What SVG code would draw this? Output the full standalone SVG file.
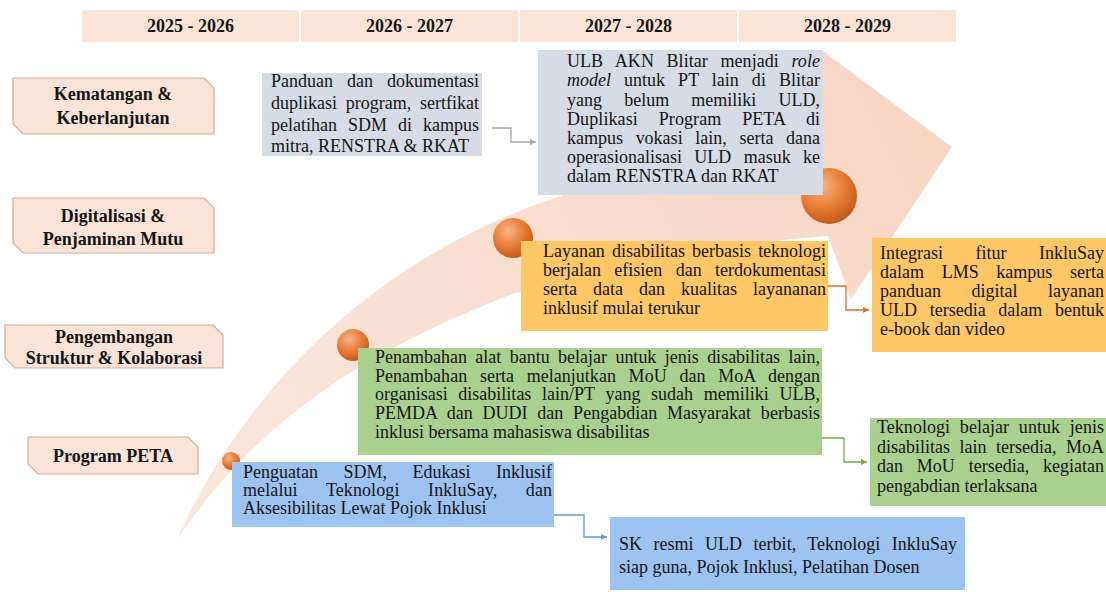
<svg xmlns="http://www.w3.org/2000/svg" width="1106" height="592" viewBox="0 0 1106 592">
<style>
.t{font-family:"Liberation Serif","Times New Roman",serif;font-size:18px;fill:#141414}
.b{font-weight:bold}
.m{text-anchor:middle}
.hd{fill:#FBE4D5}
.lbl{fill:#FBE3D6;stroke:#CFAE9A;stroke-width:1.2}
.bg{fill:#D6DCE5}
.or{fill:#FFC766}
.gr{fill:#A9D18E}
.bl{fill:#9DC3F3}
.c{fill:none;stroke-width:1.3}
</style>
<defs>
<linearGradient id="band" gradientUnits="userSpaceOnUse" x1="177" y1="540" x2="952" y2="147">
<stop offset="0" stop-color="#FBE6DC"/>
<stop offset="1" stop-color="#F8D6C4"/>
</linearGradient>
<radialGradient id="ball" cx="0.38" cy="0.32" r="0.7">
<stop offset="0" stop-color="#F7B48A"/>
<stop offset="0.45" stop-color="#EC8743"/>
<stop offset="0.85" stop-color="#D2651F"/>
<stop offset="1" stop-color="#BF5A1C"/>
</radialGradient>
<marker id="aGray" markerUnits="userSpaceOnUse" markerWidth="6" markerHeight="6" refX="6" refY="3" orient="auto"><path d="M0,0 L6,3 L0,6 Z" fill="#A6A6A6"/></marker>
<marker id="aOr" markerUnits="userSpaceOnUse" markerWidth="6" markerHeight="6" refX="6" refY="3" orient="auto"><path d="M0,0 L6,3 L0,6 Z" fill="#E46C2A"/></marker>
<marker id="aGr" markerUnits="userSpaceOnUse" markerWidth="6" markerHeight="6" refX="6" refY="3" orient="auto"><path d="M0,0 L6,3 L0,6 Z" fill="#70AD47"/></marker>
<marker id="aBl" markerUnits="userSpaceOnUse" markerWidth="6" markerHeight="6" refX="6" refY="3" orient="auto"><path d="M0,0 L6,3 L0,6 Z" fill="#5B9BD5"/></marker>
</defs>

<g id="timeline-arrow">
<path d="M177,540 C225,430 340,270 555,198 C650,166 740,135 800,112 L823,51 L952,147 L851,299 L828,236 Q620,252 497,300 C400,340 270,400 177,540 Z" fill="url(#band)"/>
</g>

<g id="header">
<rect class="hd" x="82" y="10" width="217" height="32"/>
<rect class="hd" x="301" y="10" width="217" height="32"/>
<rect class="hd" x="520" y="10" width="217" height="32"/>
<rect class="hd" x="739" y="10" width="217" height="32"/>
<text class="t b m" x="190.5" y="32">2025 - 2026</text>
<text class="t b m" x="409.5" y="32">2026 - 2027</text>
<text class="t b m" x="628.5" y="32">2027 - 2028</text>
<text class="t b m" x="847.5" y="32">2028 - 2029</text>
</g>

<g id="label-kematangan">
<path class="lbl" d="M13,78 H204 L214,88 V134 H23 L13,124 Z"/>
<text class="t b m" x="113" y="100">Kematangan &amp;</text>
<text class="t b m" x="113" y="124">Keberlanjutan</text>
</g>
<g id="label-digitalisasi">
<path class="lbl" d="M13,198 H204 L214,208 V253 H23 L13,243 Z"/>
<text class="t b m" x="113" y="222">Digitalisasi &amp;</text>
<text class="t b m" x="113" y="245">Penjaminan Mutu</text>
</g>
<g id="label-pengembangan">
<path class="lbl" d="M5,325 H213 L223,335 V368 H15 L5,358 Z"/>
<text class="t b m" x="114" y="343">Pengembangan</text>
<text class="t b m" x="114" y="364">Struktur &amp; Kolaborasi</text>
</g>
<g id="label-peta">
<path class="lbl" d="M28,437 H188 L198,447 V474 H38 L28,464 Z"/>
<text class="t b m" x="113" y="462">Program PETA</text>
</g>

<g id="milestones">
<circle cx="231" cy="461" r="9" fill="url(#ball)"/>
<circle cx="353" cy="345" r="16" fill="url(#ball)"/>
<circle cx="513" cy="238" r="20" fill="url(#ball)"/>
<circle cx="829" cy="196" r="28" fill="url(#ball)"/>
</g>

<g id="box-panduan">
<rect class="bg" x="262" y="73" width="220" height="83"/>
<text class="t" x="271" y="87" word-spacing="9.5" textLength="208" lengthAdjust="spacing">Panduan dan dokumentasi</text>
<text class="t" x="271" y="109" word-spacing="4.2" textLength="208" lengthAdjust="spacing">duplikasi program, sertfikat</text>
<text class="t" x="271" y="131" word-spacing="6.5" textLength="208" lengthAdjust="spacing">pelatihan SDM di kampus</text>
<text class="t" x="271" y="152">mitra, RENSTRA &amp; RKAT</text>
</g>

<g id="box-ulb">
<rect class="bg" x="538" y="50" width="285" height="145"/>
<text class="t" x="567" y="67" word-spacing="8" textLength="253" lengthAdjust="spacing">ULB AKN Blitar menjadi <tspan font-style="italic">role</tspan></text>
<text class="t" x="567" y="86" word-spacing="8.5" textLength="253" lengthAdjust="spacing"><tspan font-style="italic">model</tspan> untuk PT lain di Blitar</text>
<text class="t" x="567" y="105.5" word-spacing="17.7" textLength="253" lengthAdjust="spacing">yang belum memiliki ULD,</text>
<text class="t" x="567" y="124.5" word-spacing="16.2" textLength="253" lengthAdjust="spacing">Duplikasi Program PETA di</text>
<text class="t" x="567" y="144" word-spacing="8.1" textLength="253" lengthAdjust="spacing">kampus vokasi lain, serta dana</text>
<text class="t" x="567" y="163" word-spacing="7.8" textLength="253" lengthAdjust="spacing">operasionalisasi ULD masuk ke</text>
<text class="t" x="567" y="182">dalam RENSTRA dan RKAT</text>
</g>

<g id="box-layanan">
<rect class="or" x="521" y="241" width="307" height="90"/>
<text class="t" x="543" y="257" word-spacing="2.7" textLength="283" lengthAdjust="spacing">Layanan disabilitas berbasis teknologi</text>
<text class="t" x="543" y="276" word-spacing="8.8" textLength="283" lengthAdjust="spacing">berjalan efisien dan terdokumentasi</text>
<text class="t" x="543" y="295" word-spacing="11.5" textLength="283" lengthAdjust="spacing">serta data dan kualitas layananan</text>
<text class="t" x="543" y="314">inklusif mulai terukur</text>
</g>

<g id="box-integrasi">
<rect class="or" x="872" y="238" width="234" height="114"/>
<text class="t" x="880" y="259" word-spacing="28" textLength="224" lengthAdjust="spacing">Integrasi fitur InkluSay</text>
<text class="t" x="880" y="278" word-spacing="13.2" textLength="224" lengthAdjust="spacing">dalam LMS kampus serta</text>
<text class="t" x="880" y="297" word-spacing="26" textLength="224" lengthAdjust="spacing">panduan digital layanan</text>
<text class="t" x="880" y="316" word-spacing="8.2" textLength="224" lengthAdjust="spacing">ULD tersedia dalam bentuk</text>
<text class="t" x="880" y="335">e-book dan video</text>
</g>

<g id="box-penambahan">
<rect class="gr" x="358" y="348" width="464" height="107"/>
<text class="t" x="375" y="363" word-spacing="3.9" textLength="445" lengthAdjust="spacing">Penambahan alat bantu belajar untuk jenis disabilitas lain,</text>
<text class="t" x="375" y="382" word-spacing="8.2" textLength="445" lengthAdjust="spacing">Penambahan serta melanjutkan MoU dan MoA dengan</text>
<text class="t" x="375" y="400" word-spacing="6.2" textLength="445" lengthAdjust="spacing">organisasi disabilitas lain/PT yang sudah memiliki ULB,</text>
<text class="t" x="375" y="419" word-spacing="5.2" textLength="445" lengthAdjust="spacing">PEMDA dan DUDI dan Pengabdian Masyarakat berbasis</text>
<text class="t" x="375" y="438">inklusi bersama mahasiswa disabilitas</text>
</g>

<g id="box-teknologi">
<rect class="gr" x="870" y="418" width="236" height="88"/>
<text class="t" x="877" y="433" word-spacing="5.2" textLength="227" lengthAdjust="spacing">Teknologi belajar untuk jenis</text>
<text class="t" x="877" y="453" word-spacing="5" textLength="227" lengthAdjust="spacing">disabilitas lain tersedia, MoA</text>
<text class="t" x="877" y="472" word-spacing="9.3" textLength="227" lengthAdjust="spacing">dan MoU tersedia, kegiatan</text>
<text class="t" x="877" y="492">pengabdian terlaksana</text>
</g>

<g id="box-penguatan">
<rect class="bl" x="232" y="462" width="322" height="65"/>
<text class="t" x="243" y="478" word-spacing="21" textLength="309" lengthAdjust="spacing">Penguatan SDM, Edukasi Inklusif</text>
<text class="t" x="243" y="496" word-spacing="24" textLength="309" lengthAdjust="spacing">melalui Teknologi InkluSay, dan</text>
<text class="t" x="243" y="514">Aksesibilitas Lewat Pojok Inklusi</text>
</g>

<g id="box-sk">
<rect class="bl" x="610" y="517" width="355" height="73"/>
<text class="t" x="619" y="550" word-spacing="6.8" textLength="338" lengthAdjust="spacing">SK resmi ULD terbit, Teknologi InkluSay</text>
<text class="t" x="619" y="573">siap guna, Pojok Inklusi, Pelatihan Dosen</text>
</g>

<g id="connectors">
<path class="c" d="M492,128 H511 V142 H536" stroke="#A6A6A6" marker-end="url(#aGray)"/>
<path class="c" d="M828,286 H846 V310 H869" stroke="#E46C2A" marker-end="url(#aOr)"/>
<path class="c" d="M822,438 H844 V462 H867" stroke="#70AD47" marker-end="url(#aGr)"/>
<path class="c" d="M554,515 H584 V537 H607" stroke="#5B9BD5" marker-end="url(#aBl)"/>
</g>
</svg>
